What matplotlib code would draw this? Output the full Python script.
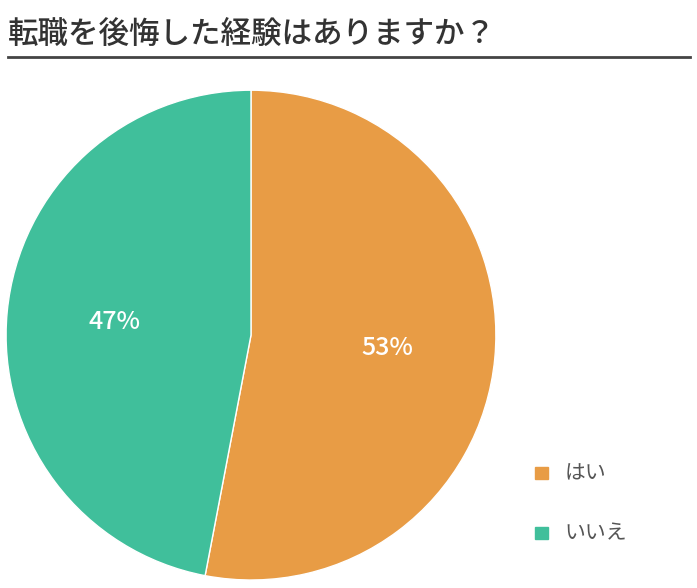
import matplotlib.pyplot as plt
from matplotlib.lines import Line2D

plt.rcParams['font.family'] = ['Noto Sans CJK JP', 'DejaVu Sans']

title = "転職を後悔した経験はありますか？"
labels = ["はい", "いいえ"]
shares = [53, 47]
colors = ["#E89C45", "#40BF9B"]

fig = plt.figure(figsize=(6.97, 5.88), dpi=100)

# title and underline
fig.text(0.012, 0.968, title, fontsize=22, color="#333333", va="top", ha="left",
         fontweight='medium')
fig.add_artist(Line2D([0.012, 0.99], [0.903, 0.903], color="#444444", lw=2))

ax = fig.add_axes([0.0086, 0.0136, 0.703, 0.833])
wedges, texts, autotexts = ax.pie(
    shares, colors=colors, startangle=90, counterclock=False,
    autopct=lambda p: '{:d}%'.format(int(round(p))), pctdistance=0.56,
    wedgeprops={'edgecolor': 'white', 'linewidth': 1})
for t in autotexts:
    t.set_color('white')
    t.set_fontsize(18)
    t.set_fontweight('medium')
ax.set_xlim(-1, 1)
ax.set_ylim(-1, 1)
ax.set_aspect('equal')

# legend
leg_y = [1 - 473 / 588, 1 - 533 / 588]
for lab, col, y in zip(labels, colors, leg_y):
    fig.patches.append(plt.Rectangle((0.767, y - 0.011), 0.019, 0.022,
                                     transform=fig.transFigure, color=col))
    fig.text(0.81, y, lab, fontsize=15, color="#555555", va="center")

fig.savefig("out.png", dpi=100)
